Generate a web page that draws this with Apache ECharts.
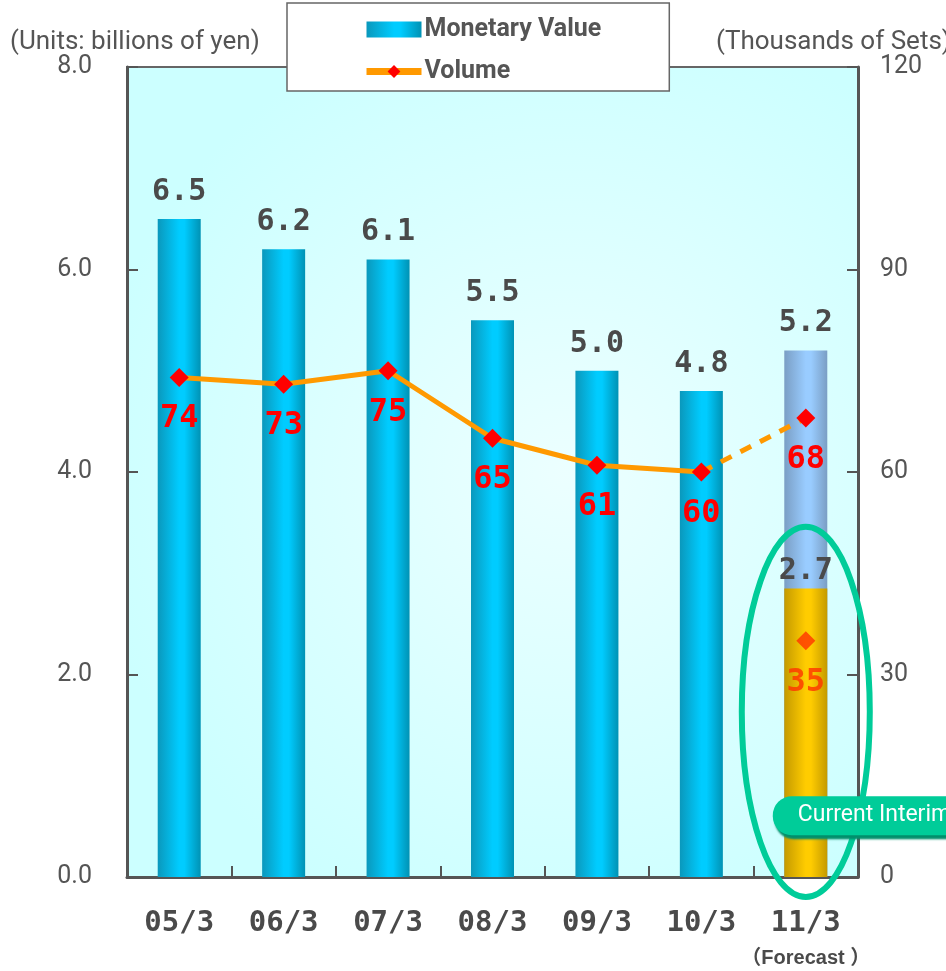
<!DOCTYPE html>
<html>
<head>
<meta charset="utf-8">
<script src="https://cdn.jsdelivr.net/npm/echarts@6/dist/echarts.min.js"></script>
<style>html,body{margin:0;padding:0;background:#fff;}#c{width:946px;height:971px;}</style>
</head>
<body>
<div id="c"></div>
<script>
const categories = ['05/3','06/3','07/3','08/3','09/3','10/3','11/3'];
const monetaryValue = [6.5, 6.2, 6.1, 5.5, 5.0, 4.8, 5.2];
const volume = [74, 73, 75, 65, 61, 60, null];
const volumeForecast = [null, null, null, null, null, 60, 68];
const interimValue = [null, null, null, null, null, null, 2.85];
const interimLabel = ['', '', '', '', '', '', '2.7'];
const interimVolume = [null, null, null, null, null, null, 35];
const leftTickLabels = ['0.0', '2.0', '4.0', '6.0', '8.0'];
const rightTickLabels = ['0', '30', '60', '90', '120'];

const NARROW = "'Liberation Sans Narrow', 'Roboto', 'Liberation Sans', sans-serif";
const MONO = "'DejaVu Sans Mono', 'Liberation Mono', monospace";

function hGrad(edgeL, mid, edgeR) {
  return new echarts.graphic.LinearGradient(0, 0, 1, 0, [
    {offset: 0, color: edgeL}, {offset: 0.5, color: mid}, {offset: 0.62, color: mid}, {offset: 1, color: edgeR}
  ]);
}
const blueGrad = hGrad('#0a98bc', '#00ccff', '#0092b4');
const lightGrad = hGrad('#7a9ec4', '#99ccff', '#7a9ec4');
const yellowGrad = hGrad('#c49a00', '#ffcc00', '#c49a00');

const chart = echarts.init(document.getElementById('c'), null, {renderer: 'canvas'});
const lastIdx = categories.length - 1;

const option = {
  animation: false,
  title: [
    {text: '(Units: billions of yen)', left: 5, top: 24, textStyle: {fontSize: 26, fontWeight: 'normal', color: '#555', fontFamily: NARROW}},
    {text: '(Thousands of Sets)', left: 711, top: 24, textStyle: {fontSize: 26, fontWeight: 'normal', color: '#555', fontFamily: NARROW}}
  ],
  legend: {
    orient: 'vertical',
    left: 287, top: 3,
    backgroundColor: '#fff',
    borderColor: '#666', borderWidth: 1.5,
    padding: [14, 68, 7, 76],
    itemWidth: 55, itemHeight: 16, itemGap: 17,
    textStyle: {fontSize: 25, fontWeight: 'bold', color: '#555', fontFamily: NARROW, padding: [0, 0, 0, -2]},
    data: [
      {name: 'Monetary Value', icon: 'rect'},
      {name: 'Volume', lineStyle: {width: 7, color: '#ff9900'}, itemStyle: {color: '#ff0000'}}
    ]
  },
  grid: {
    left: 127, right: 88, top: 67, bottom: 94,
    outerBoundsMode: 'none',
    containLabel: false,
    show: true,
    borderColor: '#666', borderWidth: 2,
    backgroundColor: new echarts.graphic.RadialGradient(0.6, 0.5, 0.65, [
      {offset: 0, color: '#ecffff'}, {offset: 1, color: '#ccffff'}
    ])
  },
  xAxis: {
    type: 'category',
    data: categories,
    axisLine: {lineStyle: {color: '#555', width: 3}},
    axisTick: {show: true, inside: true, interval: 0, length: 11, lineStyle: {color: '#555', width: 2}},
    axisLabel: {
      interval: 0,
      margin: 30,
      color: '#4a4a4a', fontSize: 29, fontWeight: 'bold', fontFamily: MONO, lineHeight: 32,
      formatter: function (v) { return v === categories[lastIdx] ? v + '\n{f|（Forecast ）}' : v; },
      rich: {f: {fontSize: 20, fontWeight: 'bold', color: '#4a4a4a', fontFamily: "'Liberation Sans', 'Noto Sans CJK JP', sans-serif", lineHeight: 38, verticalAlign: 'middle'}}
    }
  },
  yAxis: [
    {
      type: 'value', min: 0, max: 8, interval: 2,
      axisLine: {show: true, lineStyle: {color: '#555', width: 3}},
      axisTick: {show: true, inside: true, length: 11, lineStyle: {color: '#555', width: 2}},
      splitLine: {show: false},
      axisLabel: {margin: 35, color: '#555', fontSize: 25, fontFamily: NARROW,
        formatter: function (v) { return leftTickLabels[Math.round(v / 2)]; }}
    },
    {
      type: 'value', min: 0, max: 120, interval: 30,
      axisLine: {show: true, lineStyle: {color: '#555', width: 3}},
      axisTick: {show: true, inside: true, length: 11, lineStyle: {color: '#555', width: 2}},
      splitLine: {show: false},
      axisLabel: {margin: 22, color: '#555', fontSize: 25, fontFamily: NARROW,
        formatter: function (v) { return rightTickLabels[Math.round(v / 30)]; }}
    }
  ],
  series: [
    {
      name: 'Monetary Value', type: 'bar', barWidth: 43, barGap: '-100%',
      itemStyle: {color: blueGrad},
      data: monetaryValue.map(function (v, i) {
        return i === lastIdx ? {value: v, itemStyle: {color: lightGrad}} : v;
      }),
      label: {show: true, position: 'top', distance: 12, color: '#4a4a4a', fontSize: 30, fontWeight: 'bold', fontFamily: MONO,
        formatter: function (p) { return p.value.toFixed(1); }},
      z: 2
    },
    {
      name: 'Interim', type: 'bar', barWidth: 43, barGap: '-100%',
      itemStyle: {color: yellowGrad},
      data: interimValue,
      label: {show: true, position: 'top', distance: 2, color: '#4a4a4a', fontSize: 30, fontWeight: 'bold', fontFamily: MONO,
        formatter: function (p) { return interimLabel[p.dataIndex]; }},
      z: 3
    },
    {
      name: 'Volume', type: 'line', yAxisIndex: 1,
      data: volume,
      symbol: 'diamond', symbolSize: 19,
      lineStyle: {color: '#ff9900', width: 5},
      itemStyle: {color: '#ff0000'},
      label: {show: true, position: 'bottom', distance: 16, color: '#ff0000', fontSize: 32, fontWeight: 'bold', fontFamily: MONO},
      z: 5
    },
    {
      name: 'VolumeForecast', type: 'line', yAxisIndex: 1,
      data: volumeForecast.map(function (v, i) {
        return i === lastIdx ? v : (v === null ? null : {value: v, symbol: 'none', label: {show: false}});
      }),
      symbol: 'diamond', symbolSize: 19,
      lineStyle: {color: '#ff9900', width: 5, type: [12, 10]},
      itemStyle: {color: '#ff0000'},
      label: {show: true, position: 'bottom', distance: 16, color: '#ff0000', fontSize: 32, fontWeight: 'bold', fontFamily: MONO},
      z: 4
    },
    {
      name: 'InterimVolume', type: 'scatter', yAxisIndex: 1,
      data: interimVolume,
      symbol: 'diamond', symbolSize: 19,
      itemStyle: {color: '#ff3300'},
      label: {show: true, position: 'bottom', distance: 16, color: '#ff3300', fontSize: 32, fontWeight: 'bold', fontFamily: MONO},
      z: 5
    }
  ]
};
chart.setOption(option);

// Annotation: ellipse around the interim bar and the "Current Interim" tag
const cx = chart.convertToPixel({xAxisIndex: 0}, categories[lastIdx]);
const yTop = chart.convertToPixel({yAxisIndex: 0}, 3.46);
const yAxis0 = chart.convertToPixel({yAxisIndex: 0}, 0);
const yBottom = yAxis0 + 20;
const tagY = chart.convertToPixel({yAxisIndex: 0}, 0.6);
chart.setOption({
  graphic: [
    {
      type: 'ellipse', z: 100,
      shape: {cx: cx, cy: (yTop + yBottom) / 2, rx: 64, ry: (yBottom - yTop) / 2},
      style: {fill: null, stroke: '#00cc99', lineWidth: 6}
    },
    {
      type: 'rect', z: 110, shape: {x: cx - 33, y: tagY - 20, width: 230, height: 39, r: 19},
      style: {fill: '#00cc99', shadowColor: '#008f6b', shadowOffsetY: 4, shadowOffsetX: 2, shadowBlur: 2}
    },
    {
      type: 'text', z: 111,
      style: {x: cx - 8, y: tagY - 1, text: 'Current Interim', fill: '#fff', fontSize: 23, fontFamily: "'Roboto', 'Liberation Sans', sans-serif", verticalAlign: 'middle'}
    }
  ]
});
</script>
</body>
</html>
